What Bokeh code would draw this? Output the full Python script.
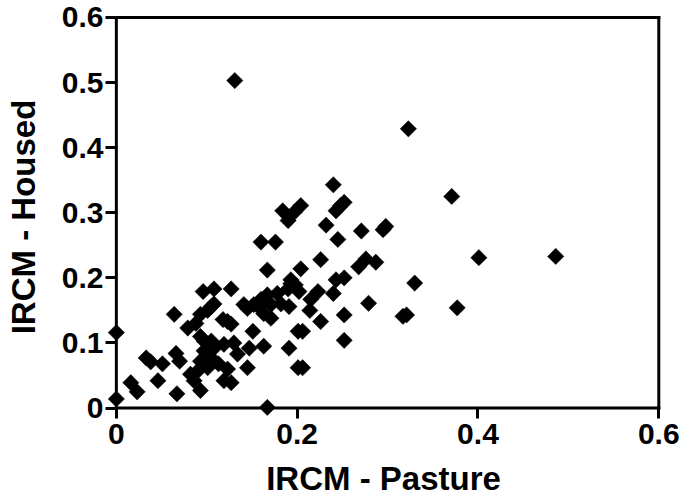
import math
from bokeh.plotting import figure
from bokeh.models import FixedTicker, ColumnDataSource, Range1d
from bokeh.embed import file_html
from bokeh.resources import INLINE

# ---- data ----
pasture = [
    0.000, 0.000, 0.016, 0.023, 0.033, 0.038, 0.051, 0.046, 0.066, 0.070,
    0.067, 0.064, 0.079, 0.088, 0.093, 0.096, 0.108, 0.127, 0.105, 0.101,
    0.108, 0.093, 0.097, 0.105, 0.082, 0.090, 0.093, 0.097, 0.101, 0.093,
    0.086, 0.105, 0.108, 0.113, 0.119, 0.119, 0.127, 0.123, 0.118, 0.127,
    0.130, 0.134, 0.145, 0.147, 0.151, 0.145, 0.152, 0.163, 0.171, 0.163,
    0.167, 0.191, 0.167, 0.178, 0.167, 0.160, 0.176, 0.193, 0.190, 0.184,
    0.190, 0.204, 0.182, 0.171, 0.160, 0.141, 0.201, 0.201, 0.131, 0.323,
    0.371, 0.401, 0.486, 0.377, 0.330, 0.321, 0.317, 0.240, 0.252, 0.243,
    0.232, 0.245, 0.271, 0.298, 0.295, 0.226, 0.204, 0.276, 0.287, 0.268,
    0.243, 0.252, 0.240, 0.223, 0.215, 0.198, 0.193, 0.202, 0.191, 0.157,
    0.279, 0.252, 0.226, 0.206, 0.252, 0.206, 0.197, 0.248, 0.123, 0.214,
]
housed = [
    0.116, 0.014, 0.039, 0.025, 0.077, 0.071, 0.068, 0.042, 0.084, 0.072,
    0.022, 0.144, 0.123, 0.130, 0.144, 0.179, 0.183, 0.183, 0.156, 0.150,
    0.160, 0.110, 0.103, 0.103, 0.052, 0.057, 0.072, 0.088, 0.062, 0.027,
    0.042, 0.077, 0.092, 0.068, 0.098, 0.042, 0.039, 0.060, 0.136, 0.129,
    0.100, 0.083, 0.062, 0.092, 0.118, 0.153, 0.159, 0.145, 0.138, 0.095,
    0.001, 0.092, 0.174, 0.176, 0.212, 0.255, 0.255, 0.191, 0.183, 0.303,
    0.288, 0.311, 0.160, 0.159, 0.167, 0.159, 0.118, 0.062, 0.503, 0.429,
    0.325, 0.231, 0.233, 0.154, 0.192, 0.143, 0.141, 0.343, 0.316, 0.303,
    0.281, 0.259, 0.272, 0.279, 0.274, 0.228, 0.214, 0.229, 0.224, 0.217,
    0.197, 0.200, 0.176, 0.179, 0.167, 0.189, 0.197, 0.179, 0.156, 0.156,
    0.161, 0.143, 0.133, 0.118, 0.104, 0.062, 0.301, 0.311, 0.133, 0.150,
]

x_ticks = [0, 0.2, 0.4, 0.6]
x_tick_labels = ["0", "0.2", "0.4", "0.6"]
y_ticks = [0, 0.1, 0.2, 0.3, 0.4, 0.5, 0.6]
y_tick_labels = ["0", "0.1", "0.2", "0.3", "0.4", "0.5", "0.6"]
x_title = "IRCM - Pasture"
y_title = "IRCM - Housed"
x_min, x_max = 0.0, 0.6
y_min, y_max = 0.0, 0.6

FONT = "Liberation Sans"

p = figure(
    width=684, height=500,
    output_backend="svg", toolbar_location=None,
    x_range=Range1d(-0.012, 0.603), y_range=Range1d(-0.016, 0.603),
    min_border_left=105, min_border_right=23,
    min_border_top=15, min_border_bottom=82,
)
p.grid.visible = False
p.outline_line_color = None
p.background_fill_color = "white"
p.border_fill_color = "white"

for ax, ticks, labels in ((p.xaxis[0], x_ticks, x_tick_labels),
                          (p.yaxis[0], y_ticks, y_tick_labels)):
    ax.ticker = FixedTicker(ticks=ticks)
    ax.major_label_overrides = {t: l for t, l in zip(ticks, labels)}
    ax.axis_line_color = None
    ax.major_tick_line_width = 3
    ax.major_tick_line_color = "black"
    ax.major_tick_out = 0
    ax.minor_tick_line_color = None
    ax.major_label_text_font = FONT
    ax.major_label_text_font_style = "bold"
    ax.major_label_text_font_size = "30px"
    ax.major_label_text_color = "black"
    ax.axis_label_text_font = FONT
    ax.axis_label_text_font_style = "bold"
    ax.axis_label_text_font_size = "33px"
    ax.axis_label_text_color = "black"

p.xaxis.major_tick_in = 10
p.xaxis.major_label_standoff = 5
p.xaxis.axis_label = x_title
p.xaxis.axis_label_standoff = 13

p.yaxis.major_tick_in = 11
p.yaxis.major_label_standoff = 2
p.yaxis.axis_label = y_title
p.yaxis.axis_label_standoff = 17

# axis lines and the top / right lines of the box
p.segment(x0=[x_min, x_min, x_min, x_max], y0=[y_min, y_min, y_max, y_min],
          x1=[x_max, x_min, x_max, x_max], y1=[y_min, y_max, y_max, y_max],
          line_color="black", line_width=3, line_cap="square")

src = ColumnDataSource(dict(x=pasture, y=housed))
p.scatter("x", "y", source=src, marker="square", size=11.5, angle=math.pi / 4,
          fill_color="black", line_color="black", line_width=0.5)

open("out.html", "w").write(file_html(p, INLINE))
